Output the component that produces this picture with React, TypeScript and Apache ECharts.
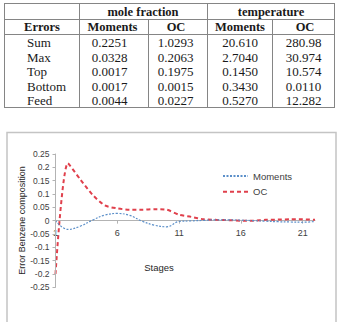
import React, { useEffect, useRef } from "react";
import * as echarts from "echarts";

// ---------- table data ----------
const rowLabels = ["Sum", "Max", "Top", "Bottom", "Feed"];
const moleMoments = ["0.2251", "0.0328", "0.0017", "0.0017", "0.0044"];
const moleOC = ["1.0293", "0.2063", "0.1975", "0.0015", "0.0227"];
const tempMoments = ["20.610", "2.7040", "0.1450", "0.3430", "0.5270"];
const tempOC = ["280.98", "30.974", "10.574", "0.0110", "12.282"];

// ---------- chart data ----------
const stages = [
  "1", "2", "3", "4", "5", "6", "7", "8", "9", "10", "11",
  "12", "13", "14", "15", "16", "17", "18", "19", "20", "21", "22",
];
const momentsErr = [
  0, -0.033, -0.021, 0.002, 0.021, 0.027, 0.02, -0.002, -0.017, -0.023, -0.003,
  -0.001, 0.001, 0.003, 0.003, 0.002, 0.0, -0.002, -0.004, -0.005, -0.006, -0.003,
];
const ocErr = [
  -0.2, 0.215, 0.155, 0.097, 0.057, 0.046, 0.041, 0.041, 0.043, 0.041, 0.022,
  0.014, 0.005, 0.003, 0.002, 0.0, 0.0, 0.003, 0.004, 0.005, 0.005, 0.003,
];
const yTicks = [-0.25, 0.25, 0.05]; // min, max, interval
const stageLabelStep = 5;

export default function App() {
  const ref = useRef<HTMLDivElement>(null);

  useEffect(() => {
    const chart = echarts.init(ref.current!, null, { renderer: "svg" });
    const serif = "'Liberation Serif', 'Times New Roman', serif";
    const sans = "'Liberation Sans', Arial, sans-serif";
    const tableLine = "#858585";
    const g: any[] = [];

    const hLine = (x1: number, x2: number, y: number) => ({
      type: "line",
      silent: true,
      shape: { x1, y1: y, x2, y2: y },
      style: { stroke: tableLine, lineWidth: 1 },
    });
    const vLine = (x: number, y1: number, y2: number) => ({
      type: "line",
      silent: true,
      shape: { x1: x, y1, x2: x, y2 },
      style: { stroke: tableLine, lineWidth: 1 },
    });
    const txt = (
      text: string,
      x: number,
      y: number,
      bold: boolean,
      align: string = "center",
      size: number = 13
    ) => ({
      type: "text",
      silent: true,
      x,
      y,
      style: {
        text,
        fill: "#1a1a1a",
        font: `${bold ? "bold " : ""}${size}px ${serif}`,
        align,
        verticalAlign: "middle",
      },
    });

    // table frame
    g.push(hLine(4, 335, 3.5));
    g.push(hLine(4, 335, 19.5));
    g.push(hLine(4, 335, 34.5));
    g.push(hLine(4, 335, 107.5));
    g.push(vLine(4.5, 3, 108));
    g.push(vLine(79.5, 3, 108));
    g.push(vLine(207.5, 3, 108));
    g.push(vLine(334.5, 3, 108));
    g.push(vLine(148.5, 19, 108));
    g.push(vLine(272.5, 19, 108));

    // headers
    g.push(txt("mole fraction", 143, 12, true, "center", 12.5));
    g.push(txt("temperature", 271, 12, true, "center", 12.5));
    g.push(txt("Errors", 42, 27, true, "center", 12.5));
    g.push(txt("Moments", 112.5, 27, true, "center", 12.5));
    g.push(txt("OC", 176, 27, true, "center", 12.5));
    g.push(txt("Moments", 240, 27, true, "center", 12.5));
    g.push(txt("OC", 305, 27, true, "center", 12.5));

    const rowY = [42.5, 57, 71.5, 86, 100.5];
    rowLabels.forEach((lab, i) => {
      g.push(txt(lab, 27, rowY[i], false, "left"));
      g.push(txt(moleMoments[i], 109.5, rowY[i], false));
      g.push(txt(moleOC[i], 175.5, rowY[i], false));
      g.push(txt(tempMoments[i], 240, rowY[i], false));
      g.push(txt(tempOC[i], 303.5, rowY[i], false));
    });

    // chart box
    g.push({
      type: "rect",
      silent: true,
      shape: { x: 7, y: 132.5, width: 329, height: 220 },
      style: { fill: "none", stroke: "#c4c4c4", lineWidth: 1.5 },
    });

    // axis titles
    g.push({
      type: "text",
      silent: true,
      x: 21.5,
      y: 220.5,
      rotation: Math.PI / 2,
      style: {
        text: "Error Benzene composition",
        fill: "#262626",
        font: `9px ${sans}`,
        align: "center",
        verticalAlign: "middle",
      },
    });
    g.push({
      type: "text",
      silent: true,
      x: 159,
      y: 267,
      style: {
        text: "Stages",
        fill: "#262626",
        font: `9.5px ${sans}`,
        align: "center",
        verticalAlign: "middle",
      },
    });

    const gridL = 55.5;
    const gridW = 259.5;
    const gridT = 154;
    const gridH = 133.3;

    // stage tick labels placed on the zero line through the chart's own scales
    const labelPoints = stages
      .filter((_, i) => i % stageLabelStep === 0)
      .map((s) => [s, 0]);

    chart.setOption({
      animation: false,
      backgroundColor: "#ffffff",
      graphic: g,
      grid: { left: gridL, top: gridT, width: gridW, height: gridH, containLabel: false },
      legend: {
        orient: "vertical",
        left: 222,
        top: 171,
        padding: 0,
        itemWidth: 25,
        itemHeight: 10,
        itemGap: 5.7,
        itemStyle: { opacity: 0 },
        textStyle: { fontFamily: sans, fontSize: 9.5, color: "#404040" },
        data: ["Moments", "OC"],
      },
      xAxis: {
        type: "category",
        data: stages,
        boundaryGap: false,
        position: "bottom",
        offset: -gridH / 2,
        axisLine: { onZero: false, lineStyle: { color: "#b3b3b3", width: 1 } },
        axisTick: { show: true, interval: 4, length: 3, lineStyle: { color: "#b3b3b3" } },
        axisLabel: { show: false },
        splitLine: { show: false },
      },
      yAxis: {
        type: "value",
        z: 10,
        min: yTicks[0],
        max: yTicks[1],
        interval: yTicks[2],
        axisLine: { show: true, lineStyle: { color: "#b3b3b3", width: 1 } },
        axisTick: { show: true, length: 3, lineStyle: { color: "#b3b3b3" } },
        axisLabel: {
          margin: 6,
          fontFamily: sans,
          fontSize: 8.5,
          color: "#404040",
          formatter: (v: number) => String(Math.round(v * 100) / 100),
        },
        splitLine: { show: false },
      },
      series: [
        {
          name: "Moments",
          type: "line",
          data: momentsErr,
          smooth: 0.4,
          symbol: "none",
          color: "#5b8fc9",
          lineStyle: { color: "#5b8fc9", width: 1.2, type: [2, 1.5] },
          z: 3,
        },
        {
          name: "OC",
          type: "line",
          data: ocErr,
          smooth: 0.25,
          symbol: "none",
          color: "#e0404c",
          lineStyle: { color: "#e0404c", width: 2, type: [4, 3] },
          z: 2,
        },
        {
          name: "stageLabels",
          type: "scatter",
          data: labelPoints,
          symbol: "circle",
          symbolSize: 1,
          silent: true,
          z: 6,
          itemStyle: { color: "rgba(255,255,255,0)" },
          emphasis: { disabled: true },
          tooltip: { show: false },
          labelLayout: { hideOverlap: false },
          label: {
            show: true,
            position: "bottom",
            distance: 7.5,
            opacity: 1,
            formatter: (p: any) => String(p.value[0]),
            fontFamily: sans,
            fontSize: 9,
            color: "#404040",
          },
        },
      ],
    });

    return () => chart.dispose();
  }, []);

  return (
    <div
      style={{
        position: "fixed",
        left: 0,
        top: 0,
        width: 340,
        height: 322,
        background: "#fff",
        overflow: "hidden",
      }}
    >
      <div ref={ref} style={{ width: 340, height: 322 }} />
    </div>
  );
}
